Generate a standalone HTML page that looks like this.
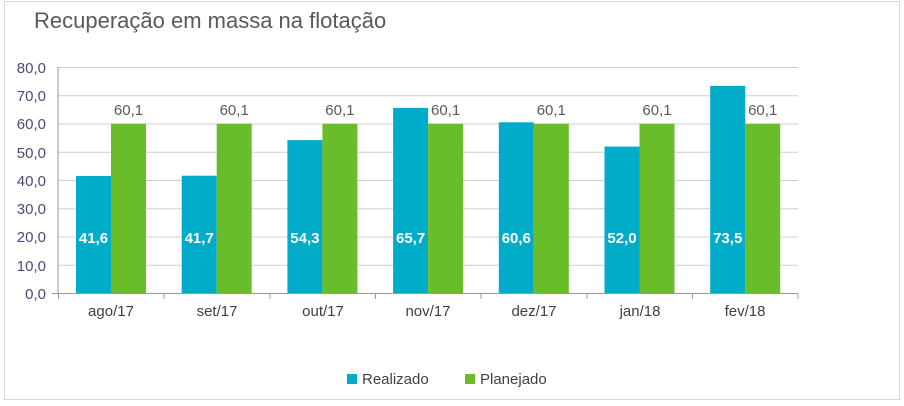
<!DOCTYPE html>
<html><head><meta charset="utf-8"><style>
body{margin:0;background:#fff;}
svg{display:block;font-family:"Liberation Sans",sans-serif;}
</style></head><body>
<svg width="904" height="406" xmlns="http://www.w3.org/2000/svg">
<rect x="4.5" y="1.5" width="895" height="398" fill="#fff" stroke="#d9d9d9"/>
<text x="34" y="28" font-size="22" fill="#595959">Recuperação em massa na flotação</text>
<g stroke="#d0d0d0" stroke-width="1">
<line x1="58" y1="67.5" x2="798" y2="67.5"/><line x1="58" y1="95.75" x2="798" y2="95.75"/>
<line x1="58" y1="124" x2="798" y2="124"/><line x1="58" y1="152.25" x2="798" y2="152.25"/>
<line x1="58" y1="180.5" x2="798" y2="180.5"/><line x1="58" y1="208.75" x2="798" y2="208.75"/>
<line x1="58" y1="237" x2="798" y2="237"/><line x1="58" y1="265.25" x2="798" y2="265.25"/>
</g>
<g font-size="15" fill="#4a4a7a" text-anchor="end">
<text x="46" y="73">80,0</text><text x="46" y="101">70,0</text><text x="46" y="129">60,0</text>
<text x="46" y="158">50,0</text><text x="46" y="186">40,0</text><text x="46" y="214">30,0</text>
<text x="46" y="242">20,0</text><text x="46" y="271">10,0</text><text x="46" y="299">0,0</text>
</g>
<g>
<rect x="76" y="176" width="35" height="117.5" fill="#00acc8"/>
<rect x="111" y="123.7" width="35" height="169.8" fill="#6abd2a"/>
<rect x="181.7" y="175.7" width="35" height="117.8" fill="#00acc8"/>
<rect x="216.7" y="123.7" width="35" height="169.8" fill="#6abd2a"/>
<rect x="287.4" y="140.1" width="35" height="153.4" fill="#00acc8"/>
<rect x="322.4" y="123.7" width="35" height="169.8" fill="#6abd2a"/>
<rect x="393.1" y="107.9" width="35" height="185.6" fill="#00acc8"/>
<rect x="428.1" y="123.7" width="35" height="169.8" fill="#6abd2a"/>
<rect x="498.8" y="122.3" width="35" height="171.2" fill="#00acc8"/>
<rect x="533.8" y="123.7" width="35" height="169.8" fill="#6abd2a"/>
<rect x="604.5" y="146.6" width="35" height="146.9" fill="#00acc8"/>
<rect x="639.5" y="123.7" width="35" height="169.8" fill="#6abd2a"/>
<rect x="710.2" y="85.9" width="35" height="207.6" fill="#00acc8"/>
<rect x="745.2" y="123.7" width="35" height="169.8" fill="#6abd2a"/>
</g>
<g font-size="15" font-weight="bold" fill="#fff" text-anchor="middle">
<text x="93.5" y="243">41,6</text><text x="199.2" y="243">41,7</text><text x="304.9" y="243">54,3</text>
<text x="410.6" y="243">65,7</text><text x="516.3" y="243">60,6</text><text x="622" y="243">52,0</text>
<text x="727.7" y="243">73,5</text>
</g>
<g font-size="15" fill="#595959" text-anchor="middle">
<text x="128.5" y="115">60,1</text><text x="234.2" y="115">60,1</text><text x="339.9" y="115">60,1</text>
<text x="445.6" y="115">60,1</text><text x="551.3" y="115">60,1</text><text x="657" y="115">60,1</text>
<text x="762.7" y="115">60,1</text>
</g>
<line x1="58" y1="67" x2="58" y2="294" stroke="#999"/>
<line x1="52" y1="293.5" x2="798" y2="293.5" stroke="#999"/>
<g stroke="#999">
<line x1="58.5" y1="294" x2="58.5" y2="299"/><line x1="164" y1="294" x2="164" y2="299"/>
<line x1="270" y1="294" x2="270" y2="299"/><line x1="375.5" y1="294" x2="375.5" y2="299"/>
<line x1="481" y1="294" x2="481" y2="299"/><line x1="587" y1="294" x2="587" y2="299"/>
<line x1="692.5" y1="294" x2="692.5" y2="299"/><line x1="798" y1="294" x2="798" y2="299"/>
</g>
<g font-size="15" fill="#404040" text-anchor="middle">
<text x="111" y="316">ago/17</text><text x="217" y="316">set/17</text><text x="323" y="316">out/17</text>
<text x="428" y="316">nov/17</text><text x="534" y="316">dez/17</text><text x="640" y="316">jan/18</text>
<text x="745" y="316">fev/18</text>
</g>
<g font-size="15" fill="#404040">
<rect x="347" y="374" width="10" height="10" fill="#00acc8"/><text x="362" y="384">Realizado</text>
<rect x="465" y="374" width="10" height="10" fill="#6abd2a"/><text x="480" y="384">Planejado</text>
</g>
</svg>
</body></html>
